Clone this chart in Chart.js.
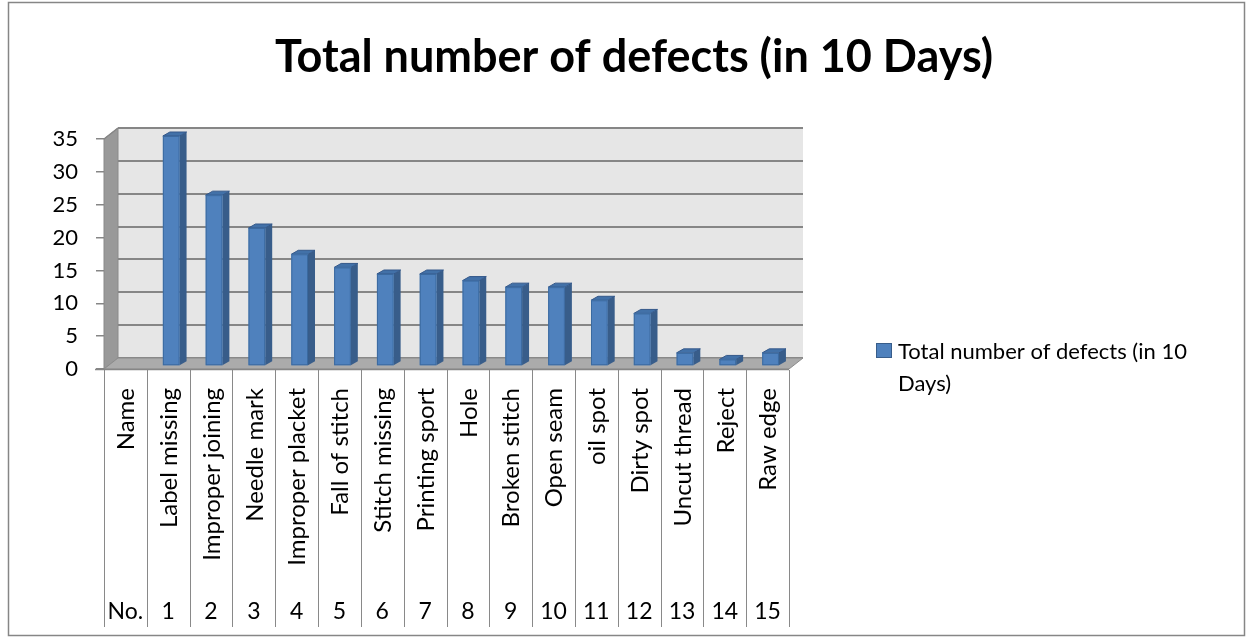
<!DOCTYPE html>
<html>
<head>
<meta charset="utf-8">
<script src="https://cdn.jsdelivr.net/npm/chart.js@4.4.1/dist/chart.umd.min.js"></script>
<style>
  body { margin: 0; background: #fff; }
  canvas { display: block; }
</style>
</head>
<body>
<canvas id="defects" width="1252" height="639"></canvas>
<script>
// chart values
const names = ["Name", "Label missing", "Improper joining", "Needle mark", "Improper placket",
  "Fall of stitch", "Stitch missing", "Printing sport", "Hole", "Broken stitch", "Open seam",
  "oil spot", "Dirty spot", "Uncut thread", "Reject", "Raw edge"];
const numbers = ["No.", "1", "2", "3", "4", "5", "6", "7", "8", "9", "10", "11", "12", "13", "14", "15"];
const defects = [null, 35, 26, 21, 17, 15, 14, 14, 13, 12, 12, 10, 8, 2, 1, 2];
const seriesName = "Total number of defects (in 10 Days)";
const yMax = 35;
const yStep = 5;

const FONT = "Lato";
const DEPTH = { x: 14, y: -11 };   // depth of the walls
const BAR_DEPTH = { x: 7, y: -4 };  // depth of a bar
const BAR_SHIFT = { x: 3, y: -3 };  // bars sit a bit behind the front edge

const excel3d = {
  id: "excel3d",
  beforeDraw(chart) {
    const ctx = chart.ctx;
    const { left, right, top, bottom } = chart.chartArea;
    const y = chart.scales.y;
    ctx.save();
    ctx.fillStyle = "#fff";
    ctx.fillRect(0, 0, chart.width, chart.height);
    ctx.strokeStyle = "#868686";
    ctx.lineWidth = 1.5;
    ctx.strokeRect(8.5, 2.5, 1236, 633);

    // back wall
    ctx.fillStyle = "#e6e6e6";
    ctx.fillRect(left + DEPTH.x, top + DEPTH.y, right - left, bottom - top);
    // side wall
    ctx.fillStyle = "#999999";
    ctx.beginPath();
    ctx.moveTo(left, bottom);
    ctx.lineTo(left, top);
    ctx.lineTo(left + DEPTH.x, top + DEPTH.y);
    ctx.lineTo(left + DEPTH.x, bottom + DEPTH.y);
    ctx.closePath();
    ctx.fill();
    ctx.strokeStyle = "#8a8a8a";
    ctx.lineWidth = 1;
    ctx.stroke();

    // gridlines on the back wall
    ctx.strokeStyle = "#868686";
    ctx.lineWidth = 2;
    for (let v = 0; v <= yMax; v += yStep) {
      const py = Math.round(y.getPixelForValue(v) + DEPTH.y);
      ctx.beginPath();
      ctx.moveTo(left + DEPTH.x, py);
      ctx.lineTo(right + DEPTH.x, py);
      ctx.stroke();
    }
    // top edge of side wall
    ctx.lineWidth = 1.5;
    ctx.beginPath();
    ctx.moveTo(left, top);
    ctx.lineTo(left + DEPTH.x, top + DEPTH.y);
    ctx.stroke();

    // floor
    ctx.fillStyle = "#ababab";
    ctx.beginPath();
    ctx.moveTo(left, bottom);
    ctx.lineTo(right, bottom);
    ctx.lineTo(right + DEPTH.x, bottom + DEPTH.y);
    ctx.lineTo(left + DEPTH.x, bottom + DEPTH.y);
    ctx.closePath();
    ctx.fill();
    ctx.strokeStyle = "#8c8c8c";
    ctx.lineWidth = 1;
    ctx.stroke();
    // front edge of the floor, running out to the 0 tick
    ctx.strokeStyle = "#868686";
    ctx.lineWidth = 1.5;
    ctx.beginPath();
    ctx.moveTo(left - 9, bottom + 0.5);
    ctx.lineTo(right, bottom + 0.5);
    ctx.stroke();
    ctx.restore();
  },
  beforeDatasetsDraw(chart) {
    const ctx = chart.ctx;
    const meta = chart.getDatasetMeta(0);
    ctx.save();
    meta.data.forEach((bar, i) => {
      if (defects[i] === null) return;
      const p = bar.getProps(["x", "y", "base", "width"], true);
      const cx = p.x + BAR_SHIFT.x;
      const hw = p.width / 2;
      const top = p.y + BAR_SHIFT.y;
      const base = p.base + BAR_SHIFT.y;
      const l = cx - hw, r = cx + hw;
      // side
      ctx.fillStyle = "#385d8a";
      ctx.beginPath();
      ctx.moveTo(r, top);
      ctx.lineTo(r + BAR_DEPTH.x, top + BAR_DEPTH.y);
      ctx.lineTo(r + BAR_DEPTH.x, base + BAR_DEPTH.y);
      ctx.lineTo(r, base);
      ctx.closePath();
      ctx.fill();
      // top
      ctx.fillStyle = "#4271a8";
      ctx.beginPath();
      ctx.moveTo(l, top);
      ctx.lineTo(l + BAR_DEPTH.x, top + BAR_DEPTH.y);
      ctx.lineTo(r + BAR_DEPTH.x, top + BAR_DEPTH.y);
      ctx.lineTo(r, top);
      ctx.closePath();
      ctx.fill();
      ctx.strokeStyle = "#34588a";
      ctx.lineWidth = 1;
      ctx.stroke();
      // front
      ctx.fillStyle = "#4f81bd";
      ctx.fillRect(l, top, r - l, base - top);
      ctx.strokeStyle = "#3b6aa0";
      ctx.strokeRect(l + 0.5, top + 0.5, r - l - 1, base - top - 1);
    });
    ctx.restore();
    return false;
  },
  afterDraw(chart) {
    const ctx = chart.ctx;
    const x = chart.scales.x;
    const { bottom } = chart.chartArea;
    ctx.save();
    // category table under the floor
    const w = x.getPixelForValue(1) - x.getPixelForValue(0);
    ctx.strokeStyle = "#898989";
    ctx.lineWidth = 1;
    for (let i = 0; i <= names.length; i++) {
      const px = Math.round(x.getPixelForValue(i) - w / 2) + 0.5;
      ctx.beginPath();
      ctx.moveTo(px, bottom + 1);
      ctx.lineTo(px, 627);
      ctx.stroke();
    }
    ctx.fillStyle = "#000";
    ctx.font = `24px ${FONT}`;
    names.forEach((name, i) => {
      ctx.save();
      ctx.translate(x.getPixelForValue(i) + 1, 388);
      ctx.rotate(-Math.PI / 2);
      ctx.textAlign = "right";
      ctx.textBaseline = "middle";
      ctx.fillText(name, 0, 0);
      ctx.restore();
    });
    ctx.font = `23px ${FONT}`;
    ctx.textAlign = "center";
    ctx.textBaseline = "middle";
    numbers.forEach((n, i) => ctx.fillText(n, x.getPixelForValue(i), 612));

    // legend
    const ds = chart.data.datasets[0];
    ctx.fillStyle = ds.backgroundColor;
    ctx.fillRect(876, 343, 16, 15);
    ctx.strokeStyle = "#385d8a";
    ctx.strokeRect(876.5, 343.5, 15, 14);
    ctx.fillStyle = "#000";
    ctx.font = `22px ${FONT}`;
    ctx.textAlign = "left";
    ctx.textBaseline = "alphabetic";
    const lines = [];
    let line = "";
    ds.label.split(" ").forEach(word => {
      const test = line ? line + " " + word : word;
      if (ctx.measureText(test).width > 310 && line) { lines.push(line); line = word; }
      else line = test;
    });
    lines.push(line);
    lines.forEach((t, i) => ctx.fillText(t, 898, 359 + i * 32));
    ctx.restore();
  }
};

new Chart(document.getElementById("defects"), {
  type: "bar",
  data: {
    labels: names,
    datasets: [{
      label: seriesName,
      data: defects,
      backgroundColor: "#4f81bd",
      borderColor: "#385d8a",
      categoryPercentage: 1,
      barPercentage: 0.39
    }]
  },
  options: {
    responsive: false,
    animation: false,
    layout: { padding: { left: 16, top: 10, right: 0, bottom: 270 } },
    plugins: {
      legend: { display: false },
      tooltip: { enabled: false },
      title: {
        display: true,
        text: seriesName,
        color: "#000",
        font: { family: FONT, size: 45, weight: "bold" },
        padding: { top: 20, bottom: 55 }
      }
    },
    scales: {
      x: { display: false },
      y: {
        min: 0,
        max: yMax,
        ticks: { stepSize: yStep, color: "#000", font: { family: FONT, size: 22 }, padding: 18 },
        grid: { drawOnChartArea: false, tickLength: 8, color: "#868686", lineWidth: 1.5 },
        border: { display: false },
        afterFit(scale) { scale.width = 88; }
      },
      // empty right-hand box that keeps room for the legend
      legendSpace: {
        type: "linear",
        position: "right",
        ticks: { display: false },
        grid: { display: false },
        border: { display: false },
        afterFit(scale) { scale.width = 463; }
      }
    }
  },
  plugins: [excel3d]
});
</script>
</body>
</html>
